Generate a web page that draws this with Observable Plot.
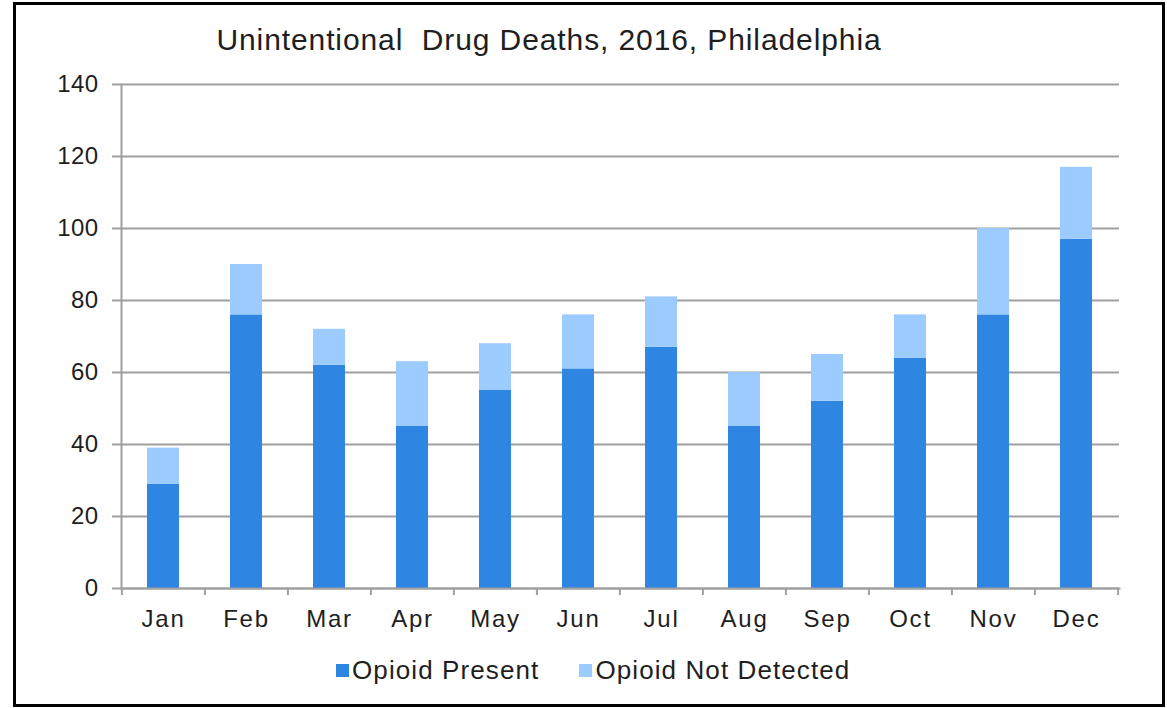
<!DOCTYPE html>
<html>
<head>
<meta charset="utf-8">
<script src="https://cdn.jsdelivr.net/npm/d3@7"></script>
<script src="https://cdn.jsdelivr.net/npm/@observablehq/plot@0.6"></script>
<style>
  body { margin: 0; background: #fff; font-family: "Liberation Sans", Arial, sans-serif; }
  #frame { position: absolute; left: 13px; top: 2px; width: 1152px; height: 705px; border: 3px solid #000; box-sizing: border-box; pointer-events: none; }
  #title { position: absolute; left: 0; top: 23px; width: 1098px; text-align: center; font-size: 30px; letter-spacing: 0.9px; color: #1e1e1e; white-space: pre; }
  #chart { position: absolute; left: 0; top: 60px; }
  #legend { position: absolute; left: 336px; top: 655px; display: flex; align-items: center; font-size: 26px; letter-spacing: 1.1px; color: #1e1e1e; white-space: nowrap; }
  .sw { width: 13px; height: 13px; display: inline-block; margin-right: 3px; }
  .item { display: flex; align-items: center; }
  .item + .item { margin-left: 40px; }
  g[aria-label="x-axis tick label"] text { letter-spacing: 1.8px; }
  g[aria-label="y-axis tick label"] text { letter-spacing: 0.4px; }
</style>
</head>
<body>
<div id="title"></div>
<div id="chart"></div>
<div id="legend"></div>
<div id="frame"></div>
<script>
const titleText = "Unintentional  Drug Deaths, 2016, Philadelphia";
const months = ["Jan", "Feb", "Mar", "Apr", "May", "Jun", "Jul", "Aug", "Sep", "Oct", "Nov", "Dec"];
const seriesNames = ["Opioid Present", "Opioid Not Detected"];
const opioidPresent = [29, 76, 62, 45, 55, 61, 67, 45, 52, 64, 76, 97];
const opioidNotDetected = [10, 14, 10, 18, 13, 15, 14, 15, 13, 12, 24, 20];
const yTicks = [0, 20, 40, 60, 80, 100, 120, 140];
const colors = ["#2e86e2", "#9ccbff"];

const data = [];
months.forEach((m, i) => {
  data.push({month: m, series: seriesNames[0], value: opioidPresent[i]});
  data.push({month: m, series: seriesNames[1], value: opioidNotDetected[i]});
});

document.getElementById("title").textContent = titleText;

const W = 1167, H = 590, mL = 121, mR = 48, mT = 24, mB = 62;
const step = (W - mL - mR) / months.length;

const chart = Plot.plot({
  width: W,
  height: H,
  marginLeft: mL,
  marginRight: mR,
  marginTop: mT,
  marginBottom: mB,
  style: {fontFamily: "'Liberation Sans', Arial, sans-serif", color: "#1e1e1e", background: "transparent", overflow: "visible"},
  x: {domain: months, paddingInner: 0.61, paddingOuter: 0.305, label: null},
  y: {domain: [0, 140], label: null},
  color: {domain: seriesNames, range: colors},
  marks: [
    Plot.gridY(yTicks, {stroke: "#a0a0a0", strokeOpacity: 1, strokeWidth: 2}),
    Plot.barY(data, {x: "month", y: "value", fill: "series"}),
    Plot.frame({anchor: "left", stroke: "#a0a0a0", strokeWidth: 2}),
    Plot.frame({anchor: "bottom", stroke: "#a0a0a0", strokeWidth: 2}),
    Plot.axisY({ticks: yTicks, tickSize: 9, tickPadding: 14, fontSize: 24, stroke: "#a0a0a0", strokeWidth: 2, fill: "#1e1e1e", label: null}),
    Plot.axisX({tickSize: 7, dx: -step / 2, text: null, stroke: "#a0a0a0", strokeWidth: 2, label: null}),
    Plot.axisX({ticks: [months[months.length - 1]], tickSize: 7, dx: step / 2, text: null, stroke: "#a0a0a0", strokeWidth: 2, label: null}),
    Plot.axisX({tickSize: 0, tickPadding: 21, fontSize: 24, fill: "#1e1e1e", label: null})
  ]
});
document.getElementById("chart").appendChild(chart);

const legend = document.getElementById("legend");
seriesNames.forEach((s, i) => {
  const item = document.createElement("div");
  item.className = "item";
  const sw = document.createElement("span");
  sw.className = "sw";
  sw.style.background = colors[i];
  const t = document.createElement("span");
  t.textContent = s;
  item.appendChild(sw);
  item.appendChild(t);
  legend.appendChild(item);
});
</script>
</body>
</html>
